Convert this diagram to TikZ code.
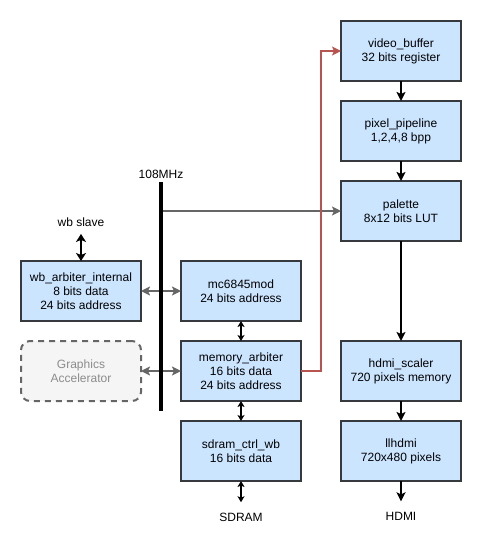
\documentclass[tikz,border=0pt]{standalone}
\usepackage{fontspec}
\setmainfont{Liberation Sans}
\usetikzlibrary{arrows.meta,positioning}
\definecolor{boxfill}{HTML}{CCE5FF}
\definecolor{boxline}{HTML}{36393D}
\definecolor{greyline}{HTML}{666666}
\definecolor{greyfill}{HTML}{F5F5F5}
\definecolor{greytext}{HTML}{8C8C8C}
\definecolor{redline}{HTML}{B85450}

\begin{document}
\begin{tikzpicture}[x=1pt,y=-1pt,node distance=20pt and 40pt,
      box/.style={draw=boxline,line width=2pt,fill=boxfill,minimum width=120pt,
        minimum height=60pt,outer sep=0pt,align=center,font=\fontsize{12}{14}\selectfont},
      gfxbox/.style={box,draw=greyline,fill=greyfill,text=greytext,
        rounded corners=9pt,dash pattern=on 6pt off 5pt},
      lbl/.style={font=\fontsize{12}{14}\selectfont},
      arr/.style={-{Stealth[length=9pt,width=9pt,inset=2pt]},line width=2pt,black},
      darr/.style={{Stealth[length=6pt,width=7pt,inset=1.5pt]}-{Stealth[length=6pt,width=7pt,inset=1.5pt]},line width=2pt,black},
      bigdarr/.style={{Stealth[length=8pt,width=10pt,inset=2pt]}-{Stealth[length=8pt,width=10pt,inset=2pt]},line width=2pt,black},
      garr/.style={-{Stealth[length=9pt,width=9pt,inset=2pt]},line width=2pt,greyline},
      gdarr/.style={{Stealth[length=9pt,width=9pt,inset=2pt]}-{Stealth[length=9pt,width=9pt,inset=2pt]},line width=2pt,greyline},
      redarr/.style={-{Stealth[length=9pt,width=9pt,inset=2pt]},line width=1.5pt,redline},
      bus/.style={line width=4pt,black}]
    \useasboundingbox (0,0) rectangle (482,551);
    \node[box] (vbuf) at (401,51) {video\_buffer\\32 bits register};
    \node[box,below=of vbuf] (pipe) {pixel\_pipeline\\1,2,4,8 bpp};
    \node[box,below=of pipe] (pal) {palette\\8x12 bits LUT};
    \node[box,below=100pt of pal] (hscale) {hdmi\_scaler\\720 pixels memory};
    \node[box,below=of hscale] (llhdmi) {llhdmi\\720x480 pixels};
    \node[box,left=of hscale] (memarb) {memory\_arbiter\\16 bits data\\24 bits address};
    \node[box,above=of memarb] (crtc) {mc6845mod\\24 bits address};
    \node[box,below=of memarb] (sdram) {sdram\_ctrl\_wb\\16 bits data};
    \node[box,left=of crtc] (wbarb) {wb\_arbiter\_internal\\8 bits data\\24 bits address};
    \node[gfxbox,left=of memarb] (gfx) {Graphics\\Accelerator};
    \node[lbl] (wbslave) at (81,222) {wb slave};
    \node[lbl] (sdramlbl) at (241,517) {SDRAM};
    \node[lbl] (hdmi) at (401,516) {HDMI};
    \coordinate (bustop) at (161,182);
    \coordinate (busbot) at (161,411);
    \node[lbl,above=0pt of bustop] (clk) {108MHz};
    \draw[arr] (vbuf) -- (pipe);
    \draw[arr] (pipe) -- (pal);
    \draw[arr] (pal) -- (hscale);
    \draw[arr] (hscale) -- (llhdmi);
    \draw[arr,shorten >=7pt] (llhdmi) -- (hdmi);
    \draw[darr] (crtc) -- (memarb);
    \draw[darr] (memarb) -- (sdram);
    \draw[darr,shorten >=7pt] (sdram) -- (sdramlbl);
    \draw[bigdarr,shorten <=4pt] (wbslave) -- (wbarb);
    \draw[gdarr] (wbarb) -- (crtc);
    \draw[gdarr] (gfx) -- (memarb);
    \draw[garr] (bustop |- pal.west) -- (pal.west);
    \draw[redarr] (memarb.east) -- ++(20,0) |- (vbuf.west);
    \draw[bus] (bustop) -- (busbot);
  \end{tikzpicture}
\end{document}
